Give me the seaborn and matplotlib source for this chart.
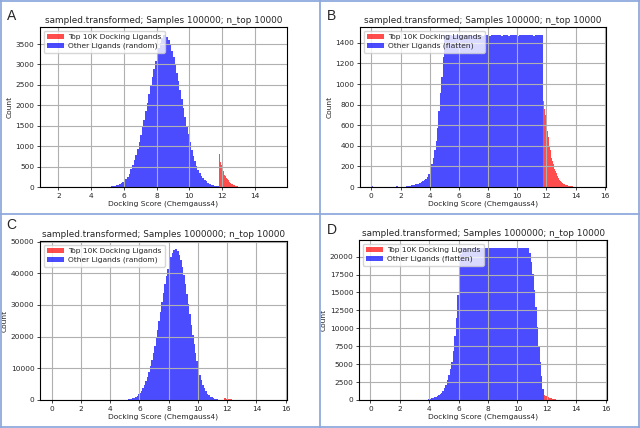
import numpy as np
import pandas as pd
import matplotlib
matplotlib.use("Agg")
import matplotlib.pyplot as plt
import matplotlib.patches as mpatches
import matplotlib.lines as mlines
import seaborn as sns

# ── Data (bin counts) ─────────────────────────────────────────────────────────
BLUE_W = 0.1   # bin width, other ligands
RED_W = 0.05   # bin width, top 10K

# A: 100000 samples, random
a_blue_start = 5.1
a_blue = [10, 15, 20, 30, 40, 55, 70, 95, 120, 150,
          190, 250, 330, 430, 540, 660, 790, 940, 1100, 1280,
          1460, 1650, 1850, 2060, 2270, 2480, 2700, 2900, 3080, 3250,
          3400, 3530, 3640, 3720, 3730, 3680, 3590, 3480, 3340, 3180,
          3000, 2800, 2590, 2380, 2160, 1940, 1720, 1500, 1290, 1090,
          910, 760, 630, 520, 420, 340, 270, 215, 170, 135,
          105, 80, 60, 45, 35, 25, 15]
a_red_start = 11.8
a_red = [820, 700, 610, 530, 460, 400, 345, 300, 260, 225,
         195, 165, 140, 120, 100, 85, 70, 58, 48, 40,
         32, 26, 20, 16, 12, 9, 6, 4]

# B: 100000 samples, flatten
b_blue_start = 0.0
b_blue = [12, 3, 0, 0, 0, 0, 0, 0, 0, 0, 0, 0, 0, 0, 0, 0,
          4, 5, 3, 2, 0, 0,
          2, 3, 5, 8, 12, 16, 20, 22, 25, 28,
          32, 38, 45, 55, 68, 82, 100, 130, 170, 220,
          280, 360, 450, 570, 740, 910, 1070, 1260, 1475,
          1472, 1478, 1474, 1476, 1470, 1479, 1475, 1473, 1477, 1471,
          1476, 1474, 1480, 1472, 1475, 1478, 1473, 1476, 1470, 1477,
          1474, 1479, 1472, 1475, 1477, 1471, 1476, 1473, 1478, 1474,
          1470, 1477, 1475, 1479, 1472, 1476, 1474, 1478, 1471, 1475,
          1473, 1477, 1476, 1470, 1479, 1474, 1472, 1478, 1475, 1471,
          1476, 1473, 1477, 1474, 1480, 1472, 1475, 1478, 1473, 1476,
          1471, 1477, 1474, 1479, 1472, 1476, 1474]
b_red_start = 11.8
b_red = [840, 760, 700, 640, 590, 540, 490, 440, 400, 360,
         320, 285, 255, 228, 200, 175, 155, 135, 118, 102,
         90, 78, 67, 58, 50, 44, 38, 33, 28, 24,
         21, 18, 15, 13, 11, 10, 9, 8, 7, 6,
         5, 4, 3]

# C: 1000000 samples, random
c_blue_start = 4.9
c_blue = [60, 90, 130, 190, 270, 380, 530, 730, 990, 1330,
          1760, 2300, 2980, 3800, 4800, 5980, 7350, 8900, 10650, 12600,
          14700, 17000, 19500, 22200, 25000, 27900, 30800, 33700, 36500, 39100,
          41500, 43500, 45200, 46500, 47300, 47800, 47600, 47000, 45800, 44100,
          42000, 39500, 36700, 33600, 30400, 27100, 23800, 20600, 17600, 14800,
          12200, 9900, 7900, 6200, 4800, 3650, 2750, 2050, 1500, 1100,
          800, 570, 400, 280, 195, 135, 92, 62, 40]
c_red_start = 11.8
c_red = [650, 560, 500, 450, 400, 350, 300, 260, 220, 190,
         160, 130, 110, 90, 70, 55, 40, 30, 20]

# D: 1000000 samples, flatten
d_blue_start = 3.7
d_blue = [20, 50, 90, 150, 210, 280, 360, 440, 530, 640,
          780, 980, 1250, 1650, 2150, 2750, 3450, 4300, 5300, 6800,
          8900, 11500, 14600, 17800, 20300,
          21180, 21220, 21150, 21240, 21190, 21210, 21170, 21230, 21200, 21160,
          21220, 21190, 21250, 21170, 21210, 21180, 21230, 21160, 21200, 21240,
          21190, 21170, 21220, 21200, 21150, 21230, 21180, 21210, 21190, 21240,
          21170, 21200, 21220, 21160, 21230, 21190, 21210, 21180, 21240, 21170,
          21200, 21220, 21190, 21160, 21210, 21180,
          20500, 19300, 17600, 15400, 12900, 10200, 7600, 5300, 3400, 1600]
d_red_start = 11.8
d_red = [720, 650, 590, 530, 480, 430, 385, 340, 300, 265,
         230, 200, 170, 145, 120, 100, 80, 60, 45, 30]

PANELS = [
    ("A", "sampled.transformed; Samples 100000; n_top 10000", "random",
     a_blue_start, a_blue, a_red_start, a_red, (0.88, 15.97)),
    ("B", "sampled.transformed; Samples 100000; n_top 10000", "flatten",
     b_blue_start, b_blue, b_red_start, b_red, (-0.78, 16.09)),
    ("C", "sampled.transformed; Samples 1000000; n_top 10000", "random",
     c_blue_start, c_blue, c_red_start, c_red, (-0.80, 16.09)),
    ("D", "sampled.transformed; Samples 1000000; n_top 10000", "flatten",
     d_blue_start, d_blue, d_red_start, d_red, (-0.78, 16.09)),
]

# ── Style ─────────────────────────────────────────────────────────────────────
sns.set_style("ticks", {"axes.grid": True, "grid.color": "#b0b0b0",
                        "axes.edgecolor": "black"})
plt.rcParams.update({
    "font.family": ["DejaVu Sans"],
    "axes.axisbelow": "line",
    "grid.linewidth": 0.8,
    "axes.linewidth": 0.8,
    "xtick.labelsize": 5.3,
    "ytick.labelsize": 5.3,
    "xtick.major.size": 2.5,
    "ytick.major.size": 2.5,
    "xtick.major.width": 0.6,
    "ytick.major.width": 0.6,
    "xtick.major.pad": 1.5,
    "ytick.major.pad": 1.5,
})

RED = "#ff0000"
BLUE = "#0000ff"
BORDER = "#8faadc"


def bins_frame(start, width, counts):
    # one row per bin: bin centre + its count
    centres = start + width * (np.arange(len(counts)) + 0.5)
    return pd.DataFrame({"score": centres, "count": counts})


fig = plt.figure(figsize=(6.4, 4.28), dpi=100)

# axes boxes in figure fractions [left, bottom, width, height]
boxes = [
    [40 / 640, 1 - 187 / 428, 247 / 640, 160 / 428],
    [360 / 640, 1 - 187 / 428, 246 / 640, 160 / 428],
    [40 / 640, 1 - 400 / 428, 247 / 640, 159 / 428],
    [359 / 640, 1 - 400 / 428, 248 / 640, 160 / 428],
]
letter_pos = [(7, 20), (327, 20), (6, 229), (327, 234)]

for (letter, title, kind, bs, bc, rs, rc, xlim), box, lp in zip(PANELS, boxes, letter_pos):
    ax = fig.add_axes(box)
    blue_df = bins_frame(bs, BLUE_W, bc)
    red_df = bins_frame(rs, RED_W, rc)
    sns.histplot(data=blue_df, x="score", weights="count", binwidth=BLUE_W,
                 binrange=(bs, bs + BLUE_W * len(bc)), ax=ax,
                 color=BLUE, alpha=0.7, linewidth=0, edgecolor="none")
    sns.histplot(data=red_df, x="score", weights="count", binwidth=RED_W,
                 binrange=(rs, rs + RED_W * len(rc)), ax=ax,
                 color=RED, alpha=0.7, linewidth=0, edgecolor="none")
    ax.set_xlim(*xlim)
    ax.set_title(title, fontsize=6.4, pad=3)
    ax.set_xlabel("Docking Score (Chemgauss4)", fontsize=5.4, labelpad=1.5)
    ax.set_ylabel("Count", fontsize=5.4, labelpad=2)
    handles = [mpatches.Patch(color=RED, alpha=0.7, lw=0),
               mpatches.Patch(color=BLUE, alpha=0.7, lw=0)]
    ax.legend(handles, ["Top 10K Docking Ligands", f"Other Ligands ({kind})"],
              loc="upper left", fontsize=5.4, frameon=True, framealpha=0.8,
              edgecolor="#cccccc", fancybox=True, borderpad=0.45,
              handlelength=2.2, handletextpad=0.6, labelspacing=0.3)
    for s in ax.spines.values():
        s.set_visible(True)
        s.set_color("black")
    fig.text(lp[0] / 640, 1 - lp[1] / 428, letter, fontsize=10,
             family="Liberation Sans", ha="left", va="baseline")

# panel frame lines
for x0, y0, x1, y1 in [(0.0015, 0, 0.0015, 1), (0.9985, 0, 0.9985, 1),
                       (0, 0.998, 1, 0.998), (0, 0.002, 1, 0.002),
                       (319.5 / 640, 0, 319.5 / 640, 1),
                       (0, 1 - 214 / 428, 1, 1 - 214 / 428)]:
    fig.add_artist(mlines.Line2D([x0, x1], [y0, y1], color=BORDER, lw=1.3,
                                 transform=fig.transFigure))

fig.savefig("out.png", dpi=100)
